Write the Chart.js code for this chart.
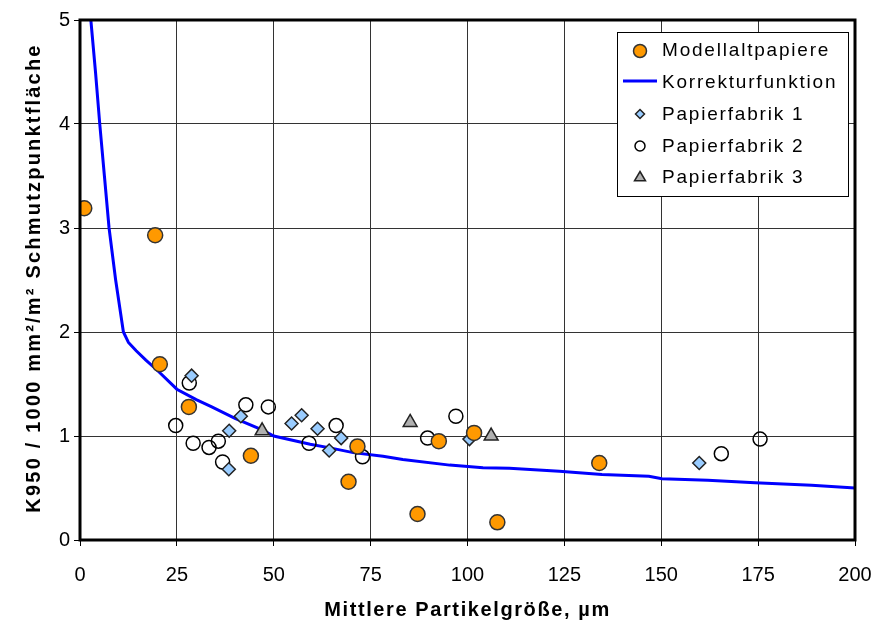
<!DOCTYPE html>
<html>
<head>
<meta charset="utf-8">
<script src="https://cdn.jsdelivr.net/npm/chart.js@4/dist/chart.umd.min.js"></script>
<style>
  html, body { margin: 0; padding: 0; background: #fff; }
  #wrap { width: 876px; height: 627px; }
</style>
</head>
<body>
<div id="wrap"><canvas id="c" width="876" height="627"></canvas></div>
<script>
// Modellaltpapiere (model waste papers)
const modellX = [1.1, 19.4, 20.6, 28.1, 44.1, 71.6, 69.3, 87.1, 92.6, 101.7, 107.7, 134.0];
const modellY = [3.19, 2.93, 1.69, 1.28, 0.81, 0.90, 0.56, 0.25, 0.95, 1.03, 0.17, 0.74];

// Papierfabrik 1
const pf1X = [28.8, 41.5, 38.5, 38.4, 54.6, 57.2, 61.3, 67.4, 64.3, 100.5, 159.8];
const pf1Y = [1.58, 1.19, 1.05, 0.68, 1.12, 1.20, 1.07, 0.98, 0.86, 0.97, 0.74];

// Papierfabrik 2
const pf2X = [28.2, 24.7, 29.2, 33.3, 35.7, 36.8, 42.8, 48.6, 59.1, 66.1, 72.9, 89.7, 97.0, 165.5, 175.5];
const pf2Y = [1.51, 1.10, 0.93, 0.89, 0.95, 0.75, 1.30, 1.28, 0.93, 1.10, 0.80, 0.98, 1.19, 0.83, 0.97];

// Papierfabrik 3
const pf3X = [47.0, 85.2, 106.1];
const pf3Y = [1.05, 1.13, 1.00];

// Korrekturfunktion (correction curve)
const korrX = [2.8, 4.0, 5.1, 6.3, 7.5, 9.2, 11.2, 12.5, 14.5, 17, 20, 25, 30, 34, 40, 47, 50, 59.4, 64.5, 70.5, 78.2, 83.3, 95.4, 104, 110.8, 123.7, 134.7, 146.8, 150.2, 162, 174.2, 188.8, 200];
const korrY = [5.0, 4.5, 4.0, 3.5, 3.0, 2.5, 2.0, 1.9, 1.82, 1.73, 1.63, 1.45, 1.35, 1.28, 1.17, 1.06, 1.0, 0.92, 0.886, 0.84, 0.806, 0.774, 0.72, 0.694, 0.69, 0.66, 0.63, 0.613, 0.59, 0.575, 0.55, 0.527, 0.50];

const xTicks = [0, 25, 50, 75, 100, 125, 150, 175, 200];
const yTicks = [0, 1, 2, 3, 4, 5];

const seriesNames = ['Modellaltpapiere', 'Korrekturfunktion', 'Papierfabrik 1', 'Papierfabrik 2', 'Papierfabrik 3'];
const xTitle = 'Mittlere Partikelgröße, µm';
const yTitle = 'K950 / 1000 mm²/m² Schmutzpunktfläche';

const pts = (xs, ys) => xs.map((x, i) => ({ x: x, y: ys[i] }));

const FONT = '"Liberation Sans", Arial, sans-serif';

// Thick frame around the plot area
const framePlugin = {
  id: 'frame',
  afterDatasetsDraw(chart) {
    const { ctx, chartArea: a } = chart;
    ctx.save();
    ctx.strokeStyle = '#000';
    ctx.lineWidth = 3;
    ctx.strokeRect(a.left, a.top, a.right - a.left, a.bottom - a.top);
    ctx.restore();
  }
};

// Axis titles, drawn with a little extra letter spacing
const titlePlugin = {
  id: 'axisTitles',
  afterDraw(chart) {
    const { ctx, chartArea: a } = chart;
    ctx.save();
    ctx.fillStyle = '#000';
    ctx.font = 'bold 20px ' + FONT;
    if ('letterSpacing' in ctx) ctx.letterSpacing = '1.6px';
    ctx.textAlign = 'center';
    ctx.textBaseline = 'middle';
    ctx.fillText(xTitle, (a.left + a.right) / 2, 610);
    ctx.translate(34, 278);
    ctx.rotate(-Math.PI / 2);
    if ('letterSpacing' in ctx) ctx.letterSpacing = '2.2px';
    ctx.fillText(yTitle, 0, 0);
    ctx.restore();
  }
};

// Boxed legend in the upper right of the plot
const legendPlugin = {
  id: 'boxLegend',
  afterDraw(chart) {
    const ctx = chart.ctx;
    const bx = 617, by = 32, bw = 231, bh = 164;
    ctx.save();
    ctx.fillStyle = '#fff';
    ctx.fillRect(bx, by, bw, bh);
    ctx.strokeStyle = '#000';
    ctx.lineWidth = 1;
    ctx.strokeRect(bx + 0.5, by + 0.5, bw, bh);

    const rows = [50, 82, 114, 146, 177];
    const mx = 640;
    ctx.font = '19px ' + FONT;
    if ('letterSpacing' in ctx) ctx.letterSpacing = '1.8px';
    ctx.textBaseline = 'middle';
    ctx.fillStyle = '#000';
    seriesNames.forEach((name, i) => {
      ctx.fillText(name, 662, rows[i] + 1);
    });

    // markers
    ctx.lineWidth = 1.5;
    ctx.beginPath();
    ctx.arc(mx, rows[0] + 1, 6.5, 0, Math.PI * 2);
    ctx.fillStyle = '#FF9900';
    ctx.fill();
    ctx.strokeStyle = '#333';
    ctx.stroke();

    ctx.beginPath();
    ctx.moveTo(623, rows[1] - 1);
    ctx.lineTo(657, rows[1] - 1);
    ctx.strokeStyle = '#0000FF';
    ctx.lineWidth = 3;
    ctx.stroke();

    ctx.lineWidth = 1.5;
    ctx.beginPath();
    const d = 4.5, dy = rows[2];
    ctx.moveTo(mx, dy - d); ctx.lineTo(mx + d, dy); ctx.lineTo(mx, dy + d); ctx.lineTo(mx - d, dy); ctx.closePath();
    ctx.fillStyle = '#99CCFF';
    ctx.fill();
    ctx.strokeStyle = '#222';
    ctx.stroke();

    ctx.beginPath();
    ctx.arc(mx, rows[3], 5, 0, Math.PI * 2);
    ctx.fillStyle = '#fff';
    ctx.fill();
    ctx.strokeStyle = '#000';
    ctx.stroke();

    ctx.beginPath();
    const t = 5.5, ty = rows[4];
    ctx.moveTo(mx, ty - t); ctx.lineTo(mx + t, ty + t * 0.7); ctx.lineTo(mx - t, ty + t * 0.7); ctx.closePath();
    ctx.fillStyle = '#B0B0B0';
    ctx.fill();
    ctx.strokeStyle = '#222';
    ctx.stroke();
    ctx.restore();
  }
};

new Chart(document.getElementById('c'), {
  type: 'scatter',
  data: {
    datasets: [
      {
        label: seriesNames[0],
        data: pts(modellX, modellY),
        pointStyle: 'circle',
        pointRadius: 7.5,
        pointHoverRadius: 7.5,
        backgroundColor: '#FF9900',
        borderColor: '#333',
        borderWidth: 1.5,
        order: 1
      },
      {
        label: seriesNames[1],
        type: 'line',
        data: pts(korrX, korrY),
        borderColor: '#0000FF',
        borderWidth: 3,
        pointRadius: 0,
        fill: false,
        tension: 0,
        order: 5
      },
      {
        label: seriesNames[2],
        data: pts(pf1X, pf1Y),
        pointStyle: 'rectRot',
        pointRadius: 6.5,
        pointHoverRadius: 6.5,
        backgroundColor: '#99CCFF',
        borderColor: '#222',
        borderWidth: 1.5,
        order: 2
      },
      {
        label: seriesNames[3],
        data: pts(pf2X, pf2Y),
        pointStyle: 'circle',
        pointRadius: 7,
        pointHoverRadius: 7,
        backgroundColor: 'rgba(255,255,255,0)',
        borderColor: '#000',
        borderWidth: 1.5,
        order: 3
      },
      {
        label: seriesNames[4],
        data: pts(pf3X, pf3Y),
        pointStyle: 'triangle',
        pointRadius: 8,
        pointHoverRadius: 8,
        backgroundColor: '#B0B0B0',
        borderColor: '#222',
        borderWidth: 1.5,
        order: 4
      }
    ]
  },
  options: {
    responsive: false,
    animation: false,
    layout: { padding: { left: 0, right: 21, top: 20, bottom: 0 } },
    plugins: {
      legend: { display: false },
      tooltip: { enabled: false }
    },
    scales: {
      x: {
        type: 'linear',
        min: 0,
        max: 200,
        afterBuildTicks(scale) { scale.ticks = xTicks.map(v => ({ value: v })); },
        afterFit(scale) {
          scale.height = 87;
          scale.paddingLeft = 0;
          scale.paddingRight = 0;
        },
        ticks: {
          color: '#000',
          font: { family: FONT, size: 20 },
          padding: 17,
          maxRotation: 0
        },
        grid: {
          color: '#333',
          lineWidth: 1,
          drawTicks: true,
          tickLength: 6,
          tickColor: '#000'
        },
        border: { display: false }
      },
      y: {
        type: 'linear',
        min: 0,
        max: 5,
        afterBuildTicks(scale) { scale.ticks = yTicks.map(v => ({ value: v })); },
        afterFit(scale) {
          scale.width = 80;
          scale.paddingTop = 0;
          scale.paddingBottom = 0;
        },
        ticks: {
          color: '#000',
          font: { family: FONT, size: 20 },
          padding: 4
        },
        grid: {
          color: '#333',
          lineWidth: 1,
          drawTicks: true,
          tickLength: 6,
          tickColor: '#000'
        },
        border: { display: false }
      }
    }
  },
  plugins: [framePlugin, titlePlugin, legendPlugin]
});
</script>
</body>
</html>
